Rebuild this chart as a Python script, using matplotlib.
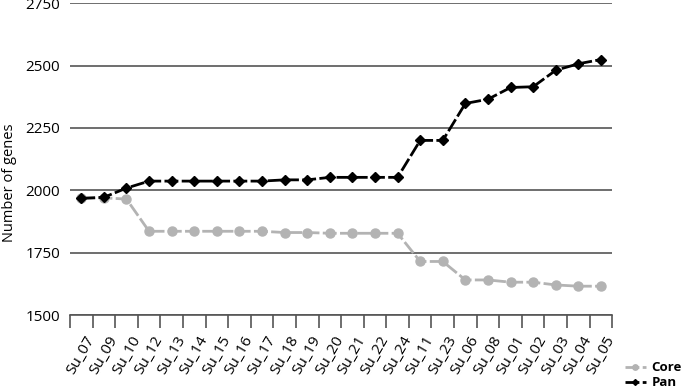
import matplotlib

matplotlib.use("Agg")
import matplotlib.pyplot as plt  # noqa: E402
import numpy as np  # noqa: E402

plt.rcParams["font.family"] = ["Open Sans", "DejaVu Sans"]

strains = ["Su_07", "Su_09", "Su_10", "Su_12", "Su_13", "Su_14", "Su_15", "Su_16",
           "Su_17", "Su_18", "Su_19", "Su_20", "Su_21", "Su_22", "Su_24", "Su_11",
           "Su_23", "Su_06", "Su_08", "Su_01", "Su_02", "Su_03", "Su_04", "Su_05"]
core = [1968, 1970, 1965, 1836, 1836, 1836, 1836, 1836, 1836, 1831, 1831, 1828,
        1828, 1828, 1828, 1715, 1715, 1641, 1641, 1632, 1632, 1621, 1616, 1616]
pan = [1968, 1972, 2009, 2037, 2037, 2037, 2037, 2037, 2037, 2042, 2042, 2052,
       2052, 2052, 2052, 2200, 2200, 2348, 2365, 2412, 2415, 2481, 2507, 2524]
yticks = [1500, 1750, 2000, 2250, 2500, 2750]

fig = plt.figure(figsize=(6.97, 3.91), dpi=100)
ax = fig.add_axes([0.1004, 0.194, 0.778, 0.798])

x = np.arange(len(strains))
dash = (0, (5, 1.2))
ax.plot(x, core, linestyle=dash, color="#b3b3b3", lw=2, marker="o", ms=6.5,
        label="Core", zorder=3)
ax.plot(x, pan, linestyle=dash, color="black", lw=2, marker="D", ms=5,
        label="Pan", zorder=4)

ax.set_xlim(-0.5, len(strains) - 0.5)
ax.set_ylim(1500, 2750)
ax.set_yticks(yticks)
ax.yaxis.grid(True, color="#555555", lw=1.2)
ax.set_axisbelow(True)
ax.tick_params(axis="y", length=0, labelsize=11, pad=7)
fig.text(0.014, 0.533, "Number of genes", rotation=90, ha="center",
         va="center", fontsize=10.5)

ax.set_xticks(x)
ax.set_xticklabels(strains, rotation=60, ha="center", fontsize=11)
ax.set_xticks(np.arange(len(strains) + 1) - 0.5, minor=True)
ax.tick_params(axis="x", which="major", length=0, pad=13)
ax.tick_params(axis="x", which="minor", length=9, width=1.2, color="#555555")

for s in ["top", "right", "left"]:
    ax.spines[s].set_visible(False)
ax.spines["bottom"].set_color("#555555")
ax.spines["bottom"].set_linewidth(1.2)

fig.legend(loc="center right", bbox_to_anchor=(0.995, 0.04), frameon=False,
           handlelength=1.6, handletextpad=0.4, labelspacing=0.15,
           markerscale=0.6, prop={"weight": "bold", "size": 9.5})

fig.savefig("out.png", dpi=100)
